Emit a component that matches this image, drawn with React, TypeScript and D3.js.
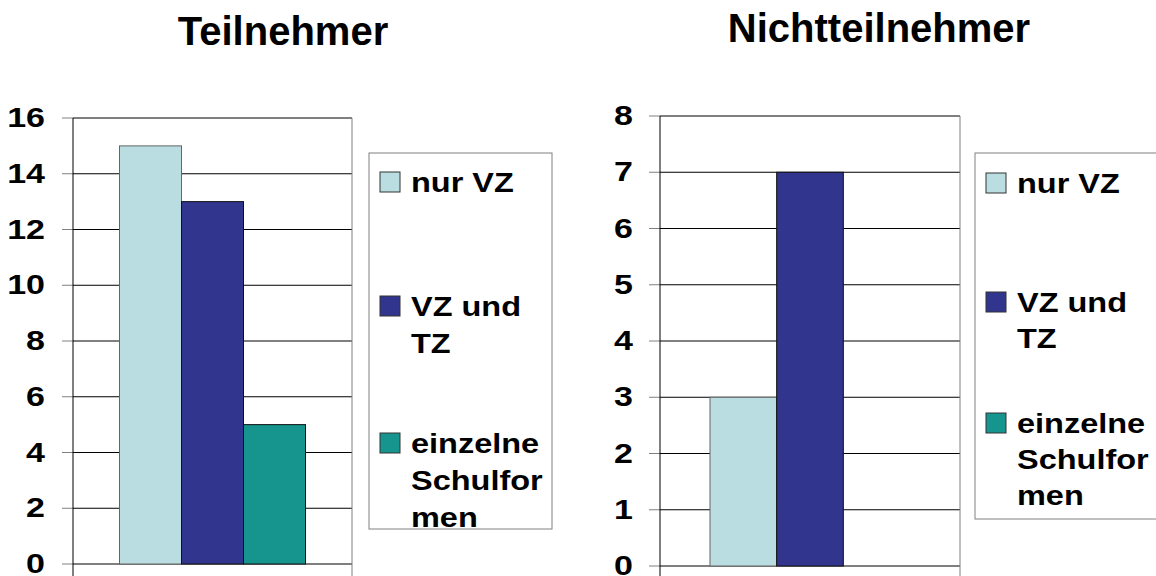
import React from "react";
import * as d3 from "d3";

// data
const categories = ["nur VZ", "VZ und TZ", "einzelne Schulformen"];
const legendLines = [["nur VZ"], ["VZ und", "TZ"], ["einzelne", "Schulfor", "men"]];
const colors = ["#B9DDE1", "#31358E", "#16958F"];
const teilnehmer = [15, 13, 5];
const nichtteilnehmer = [3, 7, 0];
const ticksTeil = [0, 2, 4, 6, 8, 10, 12, 14, 16];
const ticksNicht = [0, 1, 2, 3, 4, 5, 6, 7, 8];

const FONT = "'Liberation Sans', Arial, sans-serif";

type PanelProps = {
  title: string;
  values: number[];
  ticks: number[];
  left: number;
  right: number;
  top: number;
  zero: number;
  titleX: number;
  titleY: number;
  labelX: number;
  legend: { x: number; y: number; w: number; h: number; swX: number; swY: number[]; textX: number; lineH: number };
};

const Panel = (p: PanelProps) => {
  const max = p.ticks[p.ticks.length - 1];
  const y = d3.scaleLinear().domain([0, max]).range([p.zero, p.top]);
  const x = d3
    .scaleBand<string>()
    .domain(categories)
    .range([p.left, p.right])
    .paddingInner(0)
    .paddingOuter(0.75);
  const lg = p.legend;

  return (
    <g>
      <text
        x={p.titleX}
        y={p.titleY}
        textAnchor="middle"
        fontFamily={FONT}
        fontWeight="bold"
        fontSize={40}
      >
        {p.title}
      </text>

      {/* gridlines + ticks */}
      {p.ticks.map((t) => (
        <g key={t}>
          <line x1={p.left - 11} x2={p.left} y1={y(t)} y2={y(t)} stroke="#808080" strokeWidth={1} />
          <line x1={p.left} x2={p.right} y1={y(t)} y2={y(t)} stroke="#000" strokeWidth={1} />
          <text
            transform={`translate(${p.labelX},${y(t) + 9}) scale(1.26,1)`}
            textAnchor="end"
            fontFamily={FONT}
            fontWeight="bold"
            fontSize={27}
          >
            {t}
          </text>
        </g>
      ))}

      {/* frame */}
      <line x1={p.left} x2={p.left} y1={p.top} y2={600} stroke="#000" strokeWidth={1} />
      <line x1={p.right} x2={p.right} y1={p.top} y2={600} stroke="#808080" strokeWidth={1} />

      {/* bars */}
      {p.values.map((v, i) =>
        v > 0 ? (
          <rect
            key={i}
            x={x(categories[i])}
            y={y(v)}
            width={x.bandwidth()}
            height={y(0) - y(v)}
            fill={colors[i]}
            stroke={i === 0 ? "#666" : "#111"}
            strokeWidth={1}
          />
        ) : null
      )}

      {/* legend */}
      <rect x={lg.x} y={lg.y} width={lg.w} height={lg.h} fill="#fff" stroke="#808080" strokeWidth={1} />
      {legendLines.map((lines, i) => (
        <g key={i}>
          <rect
            x={lg.swX}
            y={lg.swY[i]}
            width={20}
            height={20}
            fill={colors[i]}
            stroke="#333"
            strokeWidth={1}
          />
          {lines.map((s, j) => (
            <text
              key={j}
              transform={`translate(${lg.textX},${lg.swY[i] + 20 + j * lg.lineH}) scale(1.16,1)`}
              fontFamily={FONT}
              fontWeight="bold"
              fontSize={28}
            >
              {s}
            </text>
          ))}
        </g>
      ))}
    </g>
  );
};

const App = () => {
  return (
    <svg
      width={1156}
      height={576}
      style={{ position: "absolute", left: 0, top: 0, background: "#fff" }}
    >
      <Panel
        title="Teilnehmer"
        values={teilnehmer}
        ticks={ticksTeil}
        left={73}
        right={352}
        top={118}
        zero={564}
        titleX={283}
        titleY={45}
        labelX={45}
        legend={{ x: 369, y: 153, w: 183, h: 376, swX: 380, swY: [172, 296, 433], textX: 411, lineH: 37 }}
      />
      <Panel
        title="Nichtteilnehmer"
        values={nichtteilnehmer}
        ticks={ticksNicht}
        left={660}
        right={960}
        top={116}
        zero={566}
        titleX={879}
        titleY={42}
        labelX={633}
        legend={{ x: 975, y: 153, w: 200, h: 366, swX: 986, swY: [173, 292, 413], textX: 1017, lineH: 36 }}
      />
    </svg>
  );
};

export default App;
